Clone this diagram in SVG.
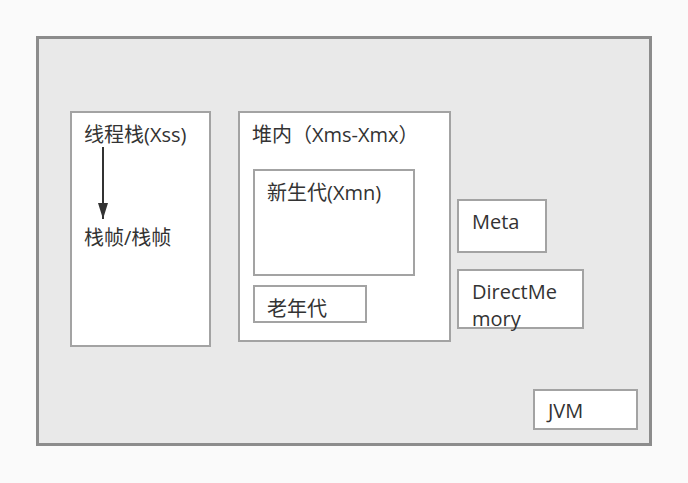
<svg xmlns="http://www.w3.org/2000/svg" width="688" height="483" viewBox="0 0 688 483">
<style>
.box{fill:#ffffff;stroke:#a3a3a3;stroke-width:2}
.t{font-family:"Open Sans","Noto Sans CJK SC",sans-serif;font-size:20px;fill:#333333}
</style>
<defs>
<marker id="ah" viewBox="0 0 16 12" refX="16" refY="6" markerWidth="16" markerHeight="12" markerUnits="userSpaceOnUse" orient="auto">
<path d="M0,1 L16,6 L0,11 z" fill="#333333"/>
</marker>
</defs>
<rect x="0" y="0" width="688" height="483" fill="#fafafa"/>
<g id="jvm-outer">
<rect x="37.500" y="37.500" width="613" height="407" fill="#e9e9e9" stroke="#8c8c8c" stroke-width="3"/>
</g>
<g id="thread-stack">
<rect class="box" x="71" y="112" width="139" height="234"/>
<text class="t" x="84" y="142">线程栈(Xss)</text>
<text class="t" x="84" y="245">栈帧/栈帧</text>
</g>
<g id="heap">
<rect class="box" x="239" y="112" width="211" height="229"/>
<text class="t" x="252" y="142">堆内（Xms-Xmx）</text>
</g>
<g id="young">
<rect class="box" x="254" y="170" width="160" height="105"/>
<text class="t" x="267" y="200">新生代(Xmn)</text>
</g>
<g id="old">
<rect class="box" x="254" y="286" width="112" height="36"/>
<text class="t" x="267" y="316">老年代</text>
</g>
<g id="meta">
<rect class="box" x="458" y="200" width="88" height="52"/>
<text class="t" x="472" y="229">Meta</text>
</g>
<g id="direct">
<rect class="box" x="458" y="270" width="125" height="58"/>
<text class="t" x="472" y="299">DirectMe</text>
<text class="t" x="472" y="326">mory</text>
</g>
<g id="jvm-label">
<rect class="box" x="534" y="390" width="103" height="39"/>
<text class="t" x="548" y="418">JVM</text>
</g>
<g id="connectors">
<line x1="103" y1="147" x2="103" y2="219" stroke="#333333" stroke-width="2" marker-end="url(#ah)"/>
</g>
</svg>
